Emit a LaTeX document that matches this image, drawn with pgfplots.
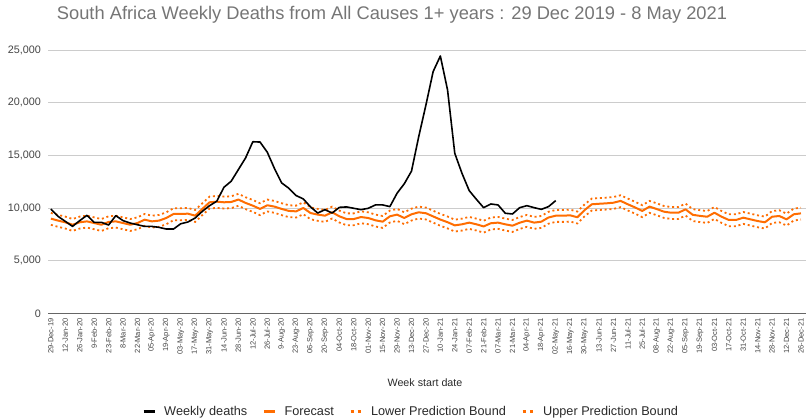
\documentclass[border=0pt]{standalone}
\usepackage{fontspec}
\setmainfont{Liberation Sans}
\usepackage{pgfplots}
\usepackage{pgfplotstable}
\pgfplotsset{compat=1.18}

\definecolor{sheetorange}{HTML}{FF6D01}
\definecolor{gridgray}{HTML}{CCCCCC}
\definecolor{basegray}{HTML}{666666}
\definecolor{titlegray}{HTML}{757575}
\definecolor{labelgray}{HTML}{444444}

% week  deaths  forecast  lower  upper
\pgfplotstableread{
w deaths fc lo up
0 9900 8990 8400 9530
1 9200 8800 8210 9340
2 8730 8640 8050 9180
3 8250 8410 7820 8950
4 8800 8640 8050 9180
5 9300 8730 8140 9270
6 8640 8570 7980 9110
7 8640 8410 7820 8950
8 8380 8670 8080 9210
9 9270 8730 8140 9270
10 8800 8570 7980 9110
11 8570 8410 7820 8950
12 8410 8570 7980 9110
13 8250 8890 8300 9430
14 8250 8730 8140 9270
15 8160 8800 8210 9340
16 8000 9050 8460 9590
17 8000 9430 8840 9970
18 8500 9430 8840 9970
19 8670 9460 8870 10000
20 9050 9270 8680 9810
21 9680 9910 9320 10450
22 10220 10540 9950 11080
23 10640 10600 10010 11140
24 11970 10540 9950 11080
25 12540 10570 9980 11110
26 13650 10800 10210 11340
27 14760 10480 9890 11020
28 16290 10220 9630 10760
29 16260 9910 9320 10450
30 15300 10260 9670 10800
31 13750 10130 9540 10670
32 12380 9910 9320 10450
33 11870 9720 9130 10260
34 11180 9680 9090 10220
35 10860 10000 9410 10540
36 10100 9520 8930 10060
37 9520 9370 8780 9910
38 9840 9270 8680 9810
39 9520 9590 9000 10130
40 10060 9210 8620 9750
41 10100 8950 8360 9490
42 9970 8950 8360 9490
43 9840 9140 8550 9680
44 9970 9050 8460 9590
45 10290 8830 8240 9370
46 10290 8700 8110 9240
47 10130 9210 8620 9750
48 11400 9370 8780 9910
49 12300 9050 8460 9590
50 13500 9400 8810 9940
51 16770 9590 9000 10130
52 19780 9500 8910 10040
53 22950 9200 8610 9740
54 24430 8900 8310 9440
55 21200 8650 8060 9190
56 15190 8350 7760 8890
57 13290 8450 7860 8990
58 11650 8610 8020 9150
59 10820 8450 7860 8990
60 10030 8250 7660 8790
61 10380 8550 7960 9090
62 10290 8610 8020 9150
63 9500 8450 7860 8990
64 9430 8320 7730 8860
65 10030 8600 8010 9140
66 10220 8800 8210 9340
67 10030 8610 8020 9150
68 9870 8700 8110 9240
69 10130 9100 8510 9640
70 10700 9270 8680 9810
71 nan 9270 8680 9810
72 nan 9300 8710 9840
73 nan 9120 8530 9660
74 nan 9800 9210 10340
75 nan 10350 9760 10890
76 nan 10400 9810 10940
77 nan 10440 9850 10980
78 nan 10500 9910 11040
79 nan 10670 10080 11210
80 nan 10350 9760 10890
81 nan 10050 9460 10590
82 nan 9720 9130 10260
83 nan 10130 9540 10670
84 nan 9900 9310 10440
85 nan 9650 9060 10190
86 nan 9550 8960 10090
87 nan 9550 8960 10090
88 nan 9870 9280 10410
89 nan 9350 8760 9890
90 nan 9250 8660 9790
91 nan 9170 8580 9710
92 nan 9550 8960 10090
93 nan 9170 8580 9710
94 nan 8860 8270 9400
95 nan 8860 8270 9400
96 nan 9080 8490 9620
97 nan 8920 8330 9460
98 nan 8760 8170 9300
99 nan 8640 8050 9180
100 nan 9170 8580 9710
101 nan 9240 8650 9780
102 nan 8920 8330 9460
103 nan 9400 8810 9940
104 nan 9490 8900 10030
}\weekly

\begin{document}
\begin{tikzpicture}[x=1bp,y=1bp]
  \useasboundingbox (0,0) rectangle (806,419);

  \begin{axis}[
      at={(48bp,105.7bp)}, anchor=south west,
      scale only axis,
      width=758bp, height=263.3bp,
      xmin=-0.4, xmax=104.7,
      ymin=0, ymax=25000,
      axis line style={draw=none},
      major tick length=0pt,
      ymajorgrids=true,
      grid style={draw=gridgray, line width=0.9bp},
      extra y ticks={0},
      extra y tick labels={},
      extra y tick style={grid style={draw=basegray, line width=1.3bp}},
      ytick={0,5000,10000,15000,20000,25000},
      scaled y ticks=false,
      /pgf/number format/.cd, 1000 sep={,}, assume math mode=true,
      /pgfplots/.cd,
      y tick label style={font=\fontsize{10.8bp}{12bp}\selectfont, text=labelgray, inner sep=0pt, xshift=-7bp},
      xtick={0,2,...,104},
      xticklabels={29-Dec-19,12-Jan-20,26-Jan-20,9-Feb-20,23-Feb-20,8-Mar-20,22-Mar-20,05-Apr-20,19-Apr-20,03-May-20,17-May-20,31-May-20,14-Jun-20,28-Jun-20,12-Jul-20,26-Jul-20,9-Aug-20,23-Aug-20,06-Sep-20,20-Sep-20,04-Oct-20,18-Oct-20,01-Nov-20,15-Nov-20,29-Nov-20,13-Dec-20,27-Dec-20,10-Jan-21,24-Jan-21,07-Feb-21,21-Feb-21,07-Mar-21,21-Mar-21,04-Apr-21,18-Apr-21,02-May-21,16-May-21,30-May-21,13-Jun-21,27-Jun-21,11-Jul-21,25-Jul-21,08-Aug-21,22-Aug-21,05-Sep-21,19-Sep-21,03-Oct-21,17-Oct-21,31-Oct-21,14-Nov-21,28-Nov-21,12-Dec-21,26-Dec-21},
      x tick label style={font=\fontsize{7.5bp}{8bp}\selectfont, text=labelgray, rotate=90, anchor=east, inner sep=0pt},
      xticklabel shift={5bp},
    ]

    \addplot[sheetorange, line width=1.8bp, dash pattern=on 2bp off 2.8bp]
      table[x=w, y=lo] {\weekly};
    \addplot[sheetorange, line width=1.8bp, dash pattern=on 2bp off 2.8bp]
      table[x=w, y=up] {\weekly};
    \addplot[sheetorange, line width=2bp, line join=round]
      table[x=w, y=fc] {\weekly};
    \addplot[black, line width=1.6bp, line join=round]
      table[x=w, y=deaths] {\weekly};
  \end{axis}

  % legend, in the reference's order
  \begin{axis}[
      at={(48bp,105.7bp)}, anchor=south west,
      scale only axis, width=758bp, height=263.3bp,
      xmin=-0.4, xmax=104.7, ymin=0, ymax=25000,
      hide axis,
      legend columns=4,
      legend style={
        at={(axis description cs:0.4776,-0.372)}, anchor=center,
        draw=none, fill=none,
        font=\fontsize{12.7bp}{14bp}\selectfont,
        text=labelgray!60!black,
        nodes={inner sep=0pt, anchor=base west},
        /tikz/every odd column/.append style={column sep=8bp},
        /tikz/every even column/.append style={column sep=15bp},
      },
    ]
    \addlegendimage{legend image code/.code={\draw[black, line width=3.2bp] (0bp,4bp) -- (11bp,4bp);}}
    \addlegendentry{Weekly deaths}
    \addlegendimage{legend image code/.code={\draw[sheetorange, line width=3.2bp] (0bp,4bp) -- (11bp,4bp);}}
    \addlegendentry{Forecast}
    \addlegendimage{legend image code/.code={\draw[sheetorange, line width=3.2bp, dash pattern=on 3.2bp off 4bp] (0bp,4bp) -- (11bp,4bp);}}
    \addlegendentry{Lower Prediction Bound}
    \addlegendimage{legend image code/.code={\draw[sheetorange, line width=3.2bp, dash pattern=on 3.2bp off 4bp] (0bp,4bp) -- (11bp,4bp);}}
    \addlegendentry{Upper Prediction Bound}
  \end{axis}

  \node[font=\fontsize{18.3bp}{20bp}\selectfont, text=titlegray] at (392,404) {South Africa Weekly Deaths from All Causes 1+ years : 29 Dec 2019 - 8 May 2021};
  \node[font=\fontsize{10.7bp}{12bp}\selectfont, text=labelgray!60!black] at (425,36) {Week start date};
\end{tikzpicture}
\end{document}
